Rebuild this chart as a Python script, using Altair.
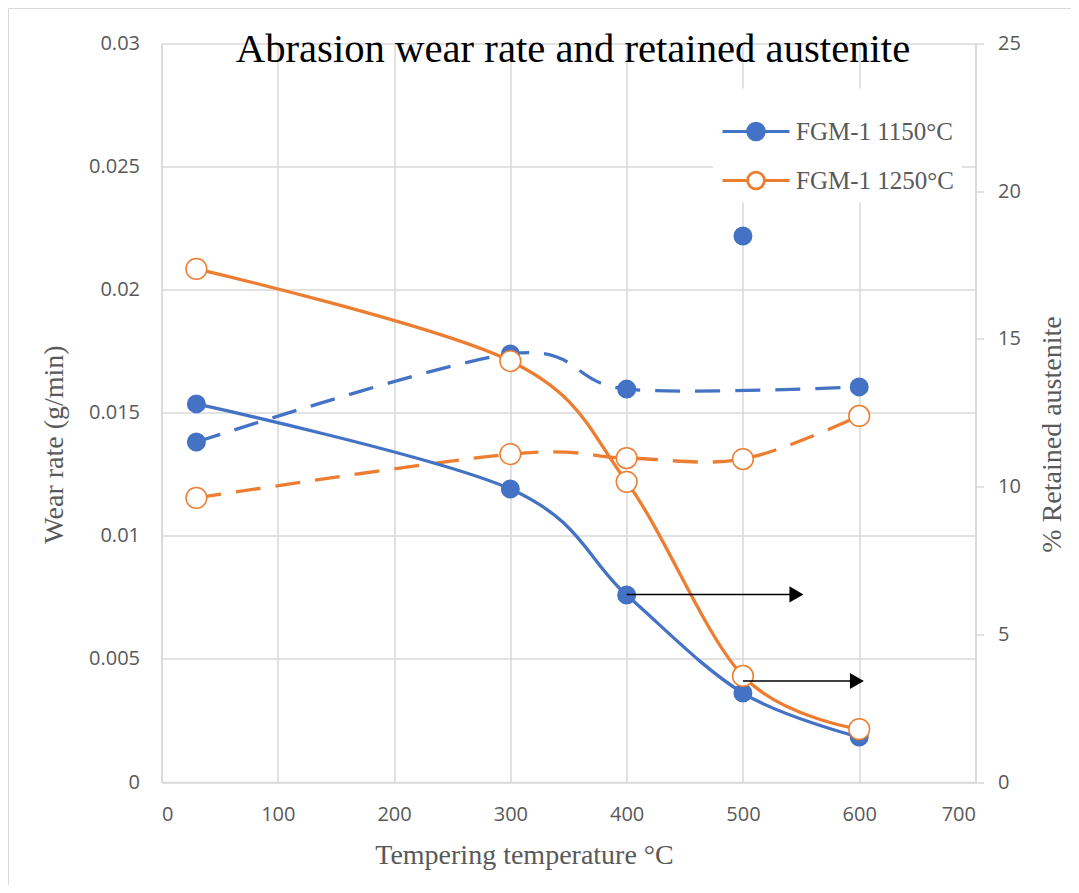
import altair as alt
import pandas as pd

# ---------------- data ----------------
temps = [30, 300, 400, 500, 600]
series_names = ["FGM-1 1150°C", "FGM-1 1250°C"]

# wear rate (g/min), left axis, dashed curves
wear_1150 = [0.01381, 0.01739, 0.01596, 0.02218, 0.01605]
wear_1150_on_curve = [True, True, True, False, True]
wear_1250 = [0.01154, 0.01332, 0.01316, 0.01312, 0.01487]
wear_1250_on_curve = [True, True, True, True, True]

# retained austenite (%), right axis, solid curves
austenite_1150 = [12.80, 9.92, 6.33, 3.01, 1.52]
austenite_1250 = [17.37, 14.25, 10.16, 3.59, 1.79]

# annotation arrows (right-axis units)
arrow_start = [400, 500]
arrow_end = [546, 598]
arrow_level = [6.35, 3.42]

x_ticks = [0, 100, 200, 300, 400, 500, 600, 700]
wear_ticks = [0, 0.005, 0.01, 0.015, 0.02, 0.025, 0.03]
austenite_ticks = [0, 5, 10, 15, 20, 25]

chart_title = "Abrasion wear rate and retained austenite"
x_title = "Tempering temperature °C"
left_title = "Wear rate (g/min)"
right_title = "% Retained austenite"

BLUE = "#4472C4"
ORANGE = "#ED7D31"
series_colors = [BLUE, ORANGE]
GRID = "#d9d9d9"
TEXT = "#595959"
SERIF = "Liberation Serif"
SANS = "Open Sans"

# ---------------- tables ----------------
n = len(temps)
wear_df = pd.DataFrame({
    "temp": temps * 2,
    "series": [series_names[0]] * n + [series_names[1]] * n,
    "wear": wear_1150 + wear_1250,
    "on_curve": wear_1150_on_curve + wear_1250_on_curve,
})
aus_df = pd.DataFrame({
    "temp": temps * 2,
    "series": [series_names[0]] * n + [series_names[1]] * n,
    "aus": austenite_1150 + austenite_1250,
})
arrow_df = pd.DataFrame({"temp": arrow_start, "temp_end": arrow_end, "aus": arrow_level})
title_df = pd.DataFrame({"t": [chart_title]})
frame_df = pd.DataFrame({"k": [0]})

W, H = 814, 738.5

# ---------------- scales / axes ----------------
x_scale = alt.Scale(domain=[0, 700], nice=False, zero=True)
x_axis = alt.Axis(values=x_ticks, grid=True, ticks=False, domain=True, labelPadding=22,
                  title=x_title, titleX=362.5, titleY=81, titleBaseline="alphabetic",
                  titleAlign="center")
left_scale = alt.Scale(domain=[0, 0.03], nice=False, zero=True)
left_axis = alt.Axis(orient="left", values=wear_ticks, format=".3~f", grid=True, ticks=False,
                     domain=True, labelPadding=22, title=left_title, titleAngle=270,
                     titleX=-99.5, titleY=400.5, titleBaseline="alphabetic", titleAlign="center")
right_scale = alt.Scale(domain=[0, 25], nice=False, zero=True)
right_axis = alt.Axis(orient="right", values=austenite_ticks, grid=False, ticks=True, tickSize=8,
                      domain=True, labelPadding=14, title=right_title, titleAngle=270,
                      titleX=84.5, titleY=390.5, titleBaseline="alphabetic", titleAlign="center")

stroke_scale = alt.Scale(domain=series_names, range=series_colors)
fill_scale = alt.Scale(domain=series_names, range=[BLUE, "#FFFFFF"])
# marker area (px^2) per series: filled blue dot, slightly larger open orange ring
size_expr = f"datum.series == '{series_names[0]}' ? 306 : 430"

SYMBOL = ("M-1,0L-0.25,0M0.25,0L1,0M0.25,0A0.25,0.25,0,1,1,-0.25,0"
          "A0.25,0.25,0,1,1,0.25,0Z")
legend = alt.Legend(title=None, orient="none", legendX=551.5, legendY=45, fillColor="white",
                    padding=8, rowPadding=0, symbolType=SYMBOL, symbolSize=4489,
                    symbolStrokeWidth=2.8, labelFont=SERIF, labelFontSize=25,
                    labelColor=TEXT, labelOffset=5, direction="vertical")


def X(field):
    return alt.X(f"{field}:Q", scale=x_scale, axis=x_axis)


def YL(field):
    return alt.Y(f"{field}:Q", scale=left_scale, axis=left_axis)


def YR(field):
    return alt.Y(f"{field}:Q", scale=right_scale, axis=right_axis)


def points(df, y):
    return alt.Chart(df).transform_calculate(msize=size_expr).mark_point(
        shape="circle", filled=True, opacity=1, strokeWidth=1.5
    ).encode(
        x=X("temp"), y=y,
        stroke=alt.Stroke("series:N", scale=stroke_scale, legend=legend),
        fill=alt.Fill("series:N", scale=fill_scale, legend=legend),
        size=alt.Size("msize:Q", scale=None),
    )


# ---------------- wear rate (left axis) ----------------
wear_lines = [
    alt.Chart(wear_df).transform_filter(
        f"datum.on_curve && datum.series == '{name}'"
    ).mark_line(
        interpolate="cardinal", strokeWidth=3.3, strokeDash=[25, 15], color=col
    ).encode(x=X("temp"), y=YL("wear"))
    for name, col in zip(series_names, series_colors)
]
left_layer = alt.layer(*wear_lines, points(wear_df, YL("wear")))

# ---------------- retained austenite (right axis) ----------------
aus_lines = [
    alt.Chart(aus_df).transform_filter(f"datum.series == '{name}'").mark_line(
        interpolate="cardinal", strokeWidth=3.3, color=col
    ).encode(x=X("temp"), y=YR("aus"))
    for name, col in zip(series_names, series_colors)
]
arrow_shafts = alt.Chart(arrow_df).mark_rule(color="black", strokeWidth=1.5).encode(
    x=X("temp"), x2="temp_end:Q", y=YR("aus"),
)
arrow_heads = alt.Chart(arrow_df).mark_point(
    shape="triangle-right", filled=True, color="black", opacity=1, size=260
).encode(x=X("temp_end"), y=YR("aus"))
right_layer = alt.layer(*aus_lines, points(aus_df, YR("aus")), arrow_shafts, arrow_heads)

# ---------------- decorations ----------------
frame = alt.Chart(frame_df).mark_rect(fillOpacity=0, stroke=GRID, strokeWidth=1).encode(
    x=alt.value(-153), x2=alt.value(W + 120), y=alt.value(-35), y2=alt.value(H + 120)
)
title_mark = alt.Chart(title_df).mark_text(
    font=SERIF, fontSize=40.7, color="black", align="center", baseline="alphabetic"
).encode(x=alt.value(411.5), y=alt.value(18.2), text="t:N")

chart = alt.layer(frame, left_layer, right_layer, title_mark).resolve_scale(
    y="independent"
).properties(
    width=W, height=H,
    autosize=alt.AutoSizeParams(type="none"),
    padding={"left": 153.5, "top": 35.5, "right": 95.5, "bottom": 103},
    background="white",
).configure_axis(
    labelFont=SANS, labelFontSize=20, labelColor=TEXT,
    titleFont=SERIF, titleFontSize=28, titleColor=TEXT, titleFontWeight="normal",
    domainColor=GRID, domainWidth=1.5, gridColor=GRID, gridWidth=1.5,
    tickColor=GRID, tickWidth=1.5,
).configure_view(stroke="transparent")

chart.save("out.html", embed_options={"renderer": "svg", "actions": False})
